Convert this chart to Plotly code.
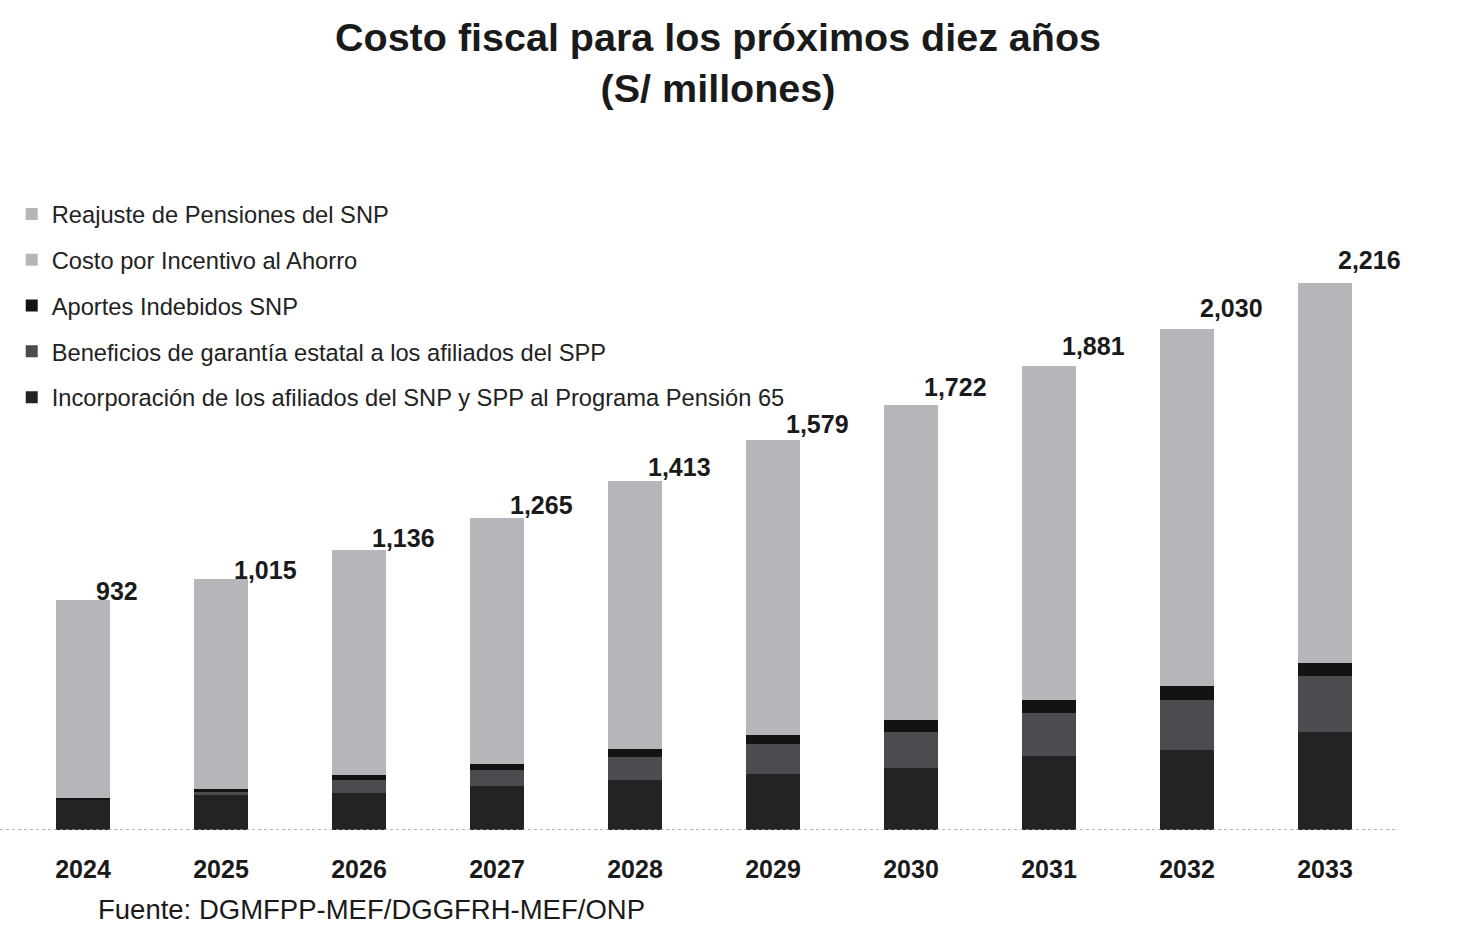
import plotly.graph_objects as go

years = ["2024", "2025", "2026", "2027", "2028", "2029", "2030", "2031", "2032", "2033"]
totals = [932, 1015, 1136, 1265, 1413, 1579, 1722, 1881, 2030, 2216]

incorporacion = [122, 142, 150, 178, 203, 227, 251, 300, 324, 397]
beneficios = [0, 12, 52, 65, 93, 122, 146, 174, 203, 227]
aportes = [8, 12, 20, 24, 32, 36, 49, 53, 57, 53]
costo_incentivo = [362, 382, 411, 449, 488, 537, 574, 609, 651, 693]
reajuste = [440, 467, 503, 549, 597, 657, 702, 745, 795, 846]

series = [
    ("Incorporación de los afiliados del SNP y SPP al Programa Pensión 65", incorporacion, "#232325", 5),
    ("Beneficios de garantía estatal a los afiliados del SPP", beneficios, "#4b4b50", 4),
    ("Aportes Indebidos SNP", aportes, "#131313", 3),
    ("Costo por Incentivo al Ahorro", costo_incentivo, "#b5b5ba", 2),
    ("Reajuste de Pensiones del SNP", reajuste, "#b6b6ba", 1),
]

FONT = "Arial, Liberation Sans, sans-serif"

# plot area geometry (pixels)
L, R, T, B = 14, 69, 170, 95
PW, PH = 1463 - L - R, 925 - T - B

fig = go.Figure()
for i, (name, vals, col, rank) in enumerate(series):
    fig.add_trace(go.Bar(
        x=years, y=vals, name=name, marker_color=col,
        marker_line_width=0, legendgroup=f"g{i}", legendrank=rank,
    ))

lo, hi = min(totals), max(totals)
for i, tot in enumerate(totals):
    fig.add_annotation(
        x=i, y=tot, text=f"<b>{tot:,}</b>", showarrow=False,
        xanchor="left", yanchor="bottom", xshift=11,
        yshift=-7 + 14 * (tot - lo) / (hi - lo),
        font=dict(family=FONT, size=25, color="#1a1a1a"),
    )

fig.add_annotation(
    x=(718 - L) / PW, y=(925 - B - 13) / PH, xref="paper", yref="paper",
    yanchor="top", xanchor="center",
    text="<b>Costo fiscal para los próximos diez años<br>(S/ millones)</b>",
    showarrow=False, font=dict(family=FONT, size=39.5, color="#1a1a1a"),
)
fig.add_annotation(
    x=(96 - L) / PW, y=(925 - B - 910) / PH, xref="paper", yref="paper",
    xanchor="left", yanchor="middle", showarrow=False,
    text="Fuente: DGMFPP-MEF/DGGFRH-MEF/ONP",
    font=dict(family=FONT, size=27.5, color="#1a1a1a"),
)

fig.add_shape(type="line", xref="paper", yref="y", x0=-L / PW, x1=(1395 - L) / PW, y0=0, y1=0,
              line=dict(color="#9a9a9a", width=1.5, dash="dot"))

fig.update_layout(
    width=1463, height=925,
    margin=dict(l=L, r=R, t=T, b=B, autoexpand=False),
    paper_bgcolor="white", plot_bgcolor="white",
    barmode="stack", bargap=0.61,
    showlegend=True,
    legend=dict(
        x=(20 - L) / PW - 0.006, y=(925 - B - 192) / PH, xanchor="left", yanchor="top",
        traceorder="grouped", tracegroupgap=12,
        font=dict(family=FONT, size=23.7, color="#222222"),
        itemwidth=30, bgcolor="rgba(0,0,0,0)",
    ),
    xaxis=dict(type="category", range=[-0.5, 9.5], showgrid=False, zeroline=False,
               showline=False, ticks="",
               tickfont=dict(family=FONT, size=25, color="#1a1a1a"),
               tickprefix="<b>", ticksuffix="</b>", ticklabelstandoff=22),
    yaxis=dict(visible=False, range=[0, 2674], showgrid=False, zeroline=False),
)

fig.write_html("out.html")
